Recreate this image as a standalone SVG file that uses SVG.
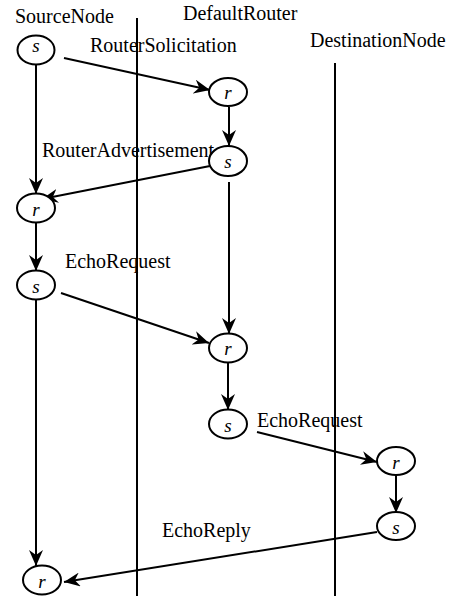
<svg xmlns="http://www.w3.org/2000/svg" width="465" height="596" viewBox="0 0 465 596">
<style>
.lbl{font-family:"Liberation Serif","Times New Roman",serif;font-size:20px;fill:#000}
.nl{font-family:"Liberation Serif","Times New Roman",serif;font-size:19px;font-style:italic;fill:#000;text-anchor:middle}
.node ellipse{fill:#fff;stroke:#000;stroke-width:2}
.life{stroke:#000;stroke-width:2}
.c{stroke:#000;stroke-width:2;fill:none;marker-end:url(#ah)}
</style>
<defs>
<marker id="ah" markerUnits="userSpaceOnUse" markerWidth="18" markerHeight="14" refX="16" refY="7" orient="auto">
<path d="M0,0 L16,7 L0,14 L5,7 z" fill="#000"/>
</marker>
</defs>
<rect width="465" height="596" fill="#fff"/>
<g id="lifelines">
<line class="life" x1="137" y1="18" x2="137" y2="596"/>
<line class="life" x1="335" y1="63" x2="335" y2="596"/>
</g>
<g id="labels">
<text class="lbl" x="15" y="23">SourceNode</text>
<text class="lbl" x="183" y="20">DefaultRouter</text>
<text class="lbl" x="90" y="52">RouterSolicitation</text>
<text class="lbl" x="310" y="47">DestinationNode</text>
<text class="lbl" x="42" y="157">RouterAdvertisement</text>
<text class="lbl" x="65" y="268">EchoRequest</text>
<text class="lbl" x="257" y="427">EchoRequest</text>
<text class="lbl" x="162" y="537">EchoReply</text>
</g>
<g id="connectors">
<line class="c" x1="64" y1="58" x2="210" y2="90"/>
<line class="c" x1="36" y1="64" x2="36" y2="194"/>
<line class="c" x1="229" y1="107" x2="229" y2="146"/>
<line class="c" x1="210" y1="166" x2="42" y2="199"/>
<line class="c" x1="36" y1="222" x2="36" y2="271"/>
<line class="c" x1="229" y1="182" x2="229" y2="334"/>
<line class="c" x1="61" y1="293" x2="209" y2="343"/>
<line class="c" x1="36" y1="300" x2="36" y2="566"/>
<line class="c" x1="228" y1="363" x2="228" y2="410"/>
<line class="c" x1="257" y1="432" x2="377" y2="462"/>
<line class="c" x1="396" y1="475" x2="396" y2="513"/>
<line class="c" x1="377" y1="532" x2="64" y2="582"/>
</g>
<g id="s1" class="node"><ellipse cx="36" cy="50" rx="18.5" ry="14.5"/><text class="nl" x="36" y="52">s</text></g>
<g id="r2" class="node"><ellipse cx="228" cy="92" rx="19" ry="14"/><text class="nl" x="228" y="99">r</text></g>
<g id="s3" class="node"><ellipse cx="228" cy="161" rx="19" ry="15"/><text class="nl" x="228" y="168">s</text></g>
<g id="r4" class="node"><ellipse cx="36" cy="208" rx="19" ry="14.5"/><text class="nl" x="36" y="216">r</text></g>
<g id="s5" class="node"><ellipse cx="36" cy="285" rx="19" ry="14.5"/><text class="nl" x="36" y="293">s</text></g>
<g id="r6" class="node"><ellipse cx="228" cy="348" rx="19" ry="14.5"/><text class="nl" x="228" y="355">r</text></g>
<g id="s7" class="node"><ellipse cx="228" cy="424" rx="19" ry="14.5"/><text class="nl" x="228" y="432">s</text></g>
<g id="r8" class="node"><ellipse cx="396" cy="461" rx="19" ry="14"/><text class="nl" x="396" y="469">r</text></g>
<g id="s9" class="node"><ellipse cx="396" cy="526" rx="19" ry="14"/><text class="nl" x="396" y="534">s</text></g>
<g id="r10" class="node"><ellipse cx="42" cy="580" rx="19" ry="14.5"/><text class="nl" x="42" y="588">r</text></g>
</svg>
